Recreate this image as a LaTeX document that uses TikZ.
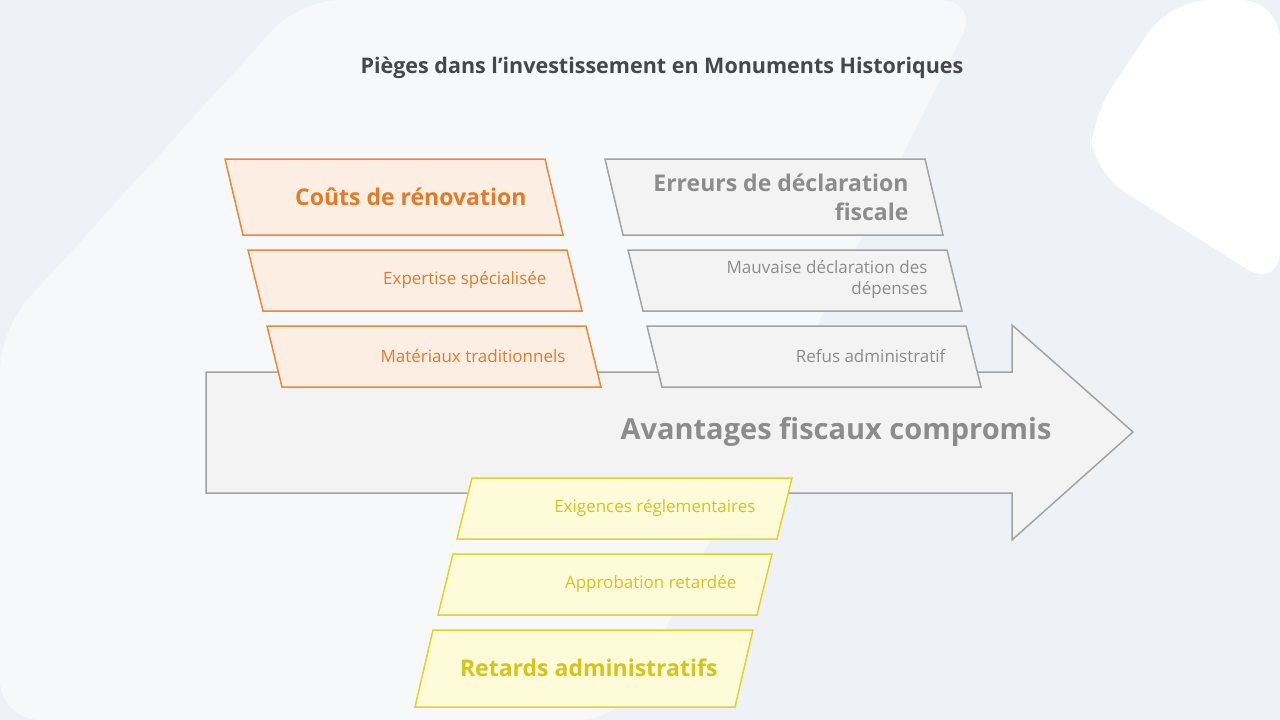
\documentclass[tikz,border=0pt]{standalone}
\usepackage{fontspec}
\setmainfont{Open Sans}
\definecolor{bg}{HTML}{EEF2F6}
\definecolor{bgl}{HTML}{F6F8FA}
\definecolor{ofill}{HTML}{FDEEE3}\definecolor{oline}{HTML}{E8893A}\definecolor{otext}{HTML}{E07B2A}
\definecolor{gfill}{HTML}{F3F3F3}\definecolor{gline}{HTML}{A3A3A3}\definecolor{gtext}{HTML}{8C8C8C}
\definecolor{yfill}{HTML}{FEFBD8}\definecolor{yline}{HTML}{E3D12C}\definecolor{ytext}{HTML}{D6C31C}
\tikzset{
 para/.style={line width=1.5pt,line join=miter},
 lbl/.style={anchor=east,align=right,font=\fontsize{17}{21}\selectfont},
 big/.style={anchor=east,align=right,font=\bfseries\fontsize{23}{29}\selectfont},
}
\begin{document}
\begin{tikzpicture}[x=1pt,y=-1pt]
\useasboundingbox (0,0) rectangle (1280,720);
\fill[bg] (0,0) rectangle (1280,720);
\fill[bgl,rounded corners=40pt] (300,0) -- (980,0) -- (620,720) -- (0,720) -- (0,330) -- cycle;
\fill[white,rounded corners=40pt] (1170,0) -- (1280,0) -- (1280,290) -- (1090,170) -- (1090,120) -- cycle;
\node[font=\bfseries\fontsize{21.5}{26}\selectfont,text=black!72] (title) at (662,68) {Pièges dans l{\char"0027}investissement en Monuments Historiques};
% arrow
\draw[gline,fill=gfill,line width=1.5pt] (206,372) -- (1012,372) -- (1012,325) -- (1133,432) -- (1012,540) -- (1012,493) -- (206,493) -- cycle;
\node[big,text=gtext,font=\bfseries\fontsize{29}{34}\selectfont] (main) at (1055,432) {Avantages fiscaux compromis};
% orange
\draw[para,oline,fill=ofill] (225,159) -- (545,159) -- (563,235) -- (243,235) -- cycle;
\node[big,text=otext] (o1) at (530,197) {Coûts de rénovation};
\draw[para,oline,fill=ofill] (248,250) -- (567,250) -- (582,311) -- (263,311) -- cycle;
\node[lbl,text=otext] (o2) at (550,280) {Expertise spécialisée};
\draw[para,oline,fill=ofill] (267,326) -- (586,326) -- (601,387) -- (282,387) -- cycle;
\node[lbl,text=otext] (o3) at (569,356) {Matériaux traditionnels};
% gray
\draw[para,gline,fill=gfill] (605,159) -- (925,159) -- (943,235) -- (623,235) -- cycle;
\node[big,text=gtext] (g1) at (912,197) {Erreurs de déclaration\\fiscale};
\draw[para,gline,fill=gfill] (628,250) -- (947,250) -- (962,311) -- (643,311) -- cycle;
\node[lbl,text=gtext] (g2) at (931,280) {Mauvaise déclaration des\\dépenses};
\draw[para,gline,fill=gfill] (647,326) -- (966,326) -- (981,387) -- (662,387) -- cycle;
\node[lbl,text=gtext] (g3) at (949,356) {Refus administratif};
% yellow
\draw[para,yline,fill=yfill] (472,478) -- (792,478) -- (777,539) -- (457,539) -- cycle;
\node[lbl,text=ytext] (y1) at (759,508) {Exigences réglementaires};
\draw[para,yline,fill=yfill] (453,554) -- (772,554) -- (757,615) -- (438,615) -- cycle;
\node[lbl,text=ytext] (y2) at (740,584) {Approbation retardée};
\draw[para,yline,fill=yfill] (433,630) -- (753,630) -- (735,707) -- (415,707) -- cycle;
\node[big,text=ytext] (y3) at (721,668) {Retards administratifs};
\end{tikzpicture}
\end{document}
